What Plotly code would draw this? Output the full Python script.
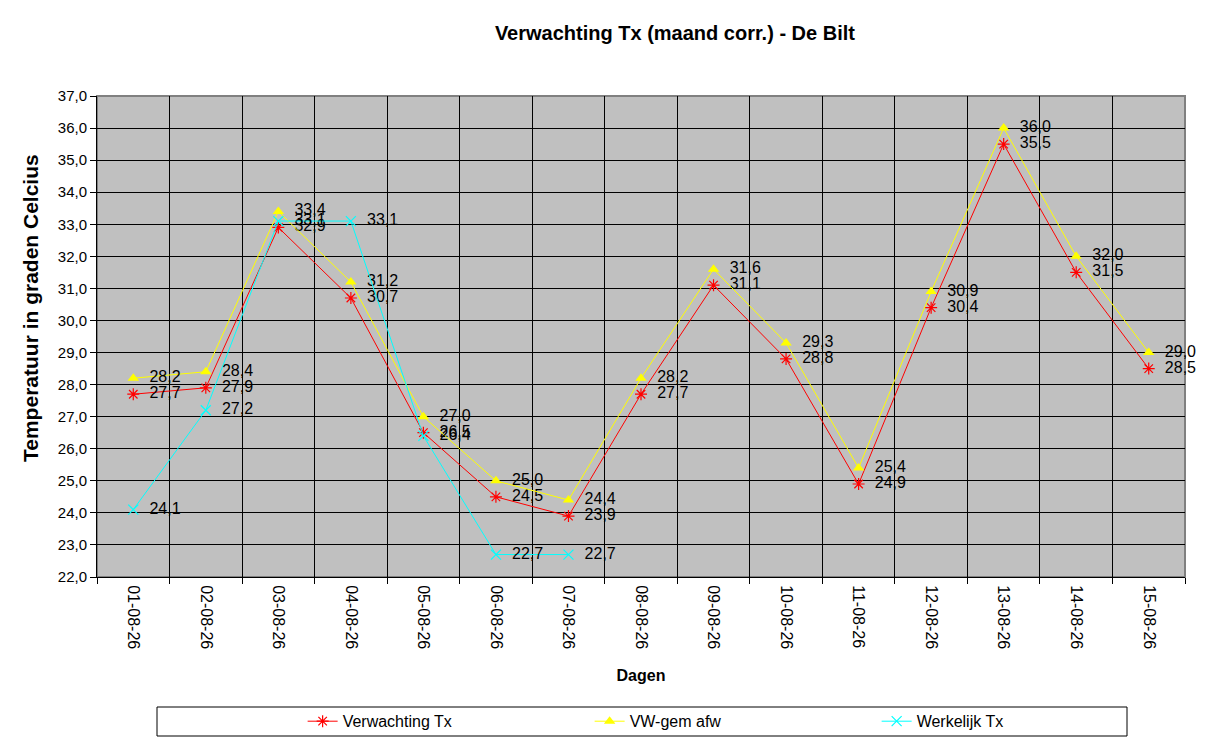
import plotly.graph_objects as go

# Dagen en temperaturen (graden Celcius)
dagen = ['01-08-26', '02-08-26', '03-08-26', '04-08-26', '05-08-26', '06-08-26', '07-08-26', '08-08-26',
         '09-08-26', '10-08-26', '11-08-26', '12-08-26', '13-08-26', '14-08-26', '15-08-26']
verwachting_tx = [27.7, 27.9, 32.9, 30.7, 26.5, 24.5, 23.9, 27.7, 31.1, 28.8, 24.9, 30.4, 35.5, 31.5, 28.5]
vw_gem_afw = [28.2, 28.4, 33.4, 31.2, 27.0, 25.0, 24.4, 28.2, 31.6, 29.3, 25.4, 30.9, 36.0, 32.0, 29.0]
werkelijk_dagen = dagen[:7]
werkelijk_tx = [24.1, 27.2, 33.1, 33.1, 26.4, 22.7, 22.7]

FONT = 'Liberation Sans, Arial, sans-serif'


def label(vals):
    # Excel-achtige labels met komma, iets rechts van het punt
    return ['  ' + f'{v:.1f}'.replace('.', ',') for v in vals]


fig = go.Figure()

fig.add_trace(go.Scatter(
    x=dagen, y=verwachting_tx, name='Verwachting Tx', mode='lines+markers+text',
    line=dict(color='#FF0000', width=1),
    marker=dict(symbol='asterisk-open', size=10, color='#FF0000', line=dict(color='#FF0000', width=1.2)),
    text=label(verwachting_tx), textposition='middle right', cliponaxis=False,
    textfont=dict(family=FONT, size=16, color='#000000')))

fig.add_trace(go.Scatter(
    x=dagen, y=vw_gem_afw, name='VW-gem afw', mode='lines+markers+text',
    line=dict(color='#FFFF00', width=1),
    marker=dict(symbol='triangle-up', size=10, color='#FFFF00'),
    text=label(vw_gem_afw), textposition='middle right', cliponaxis=False,
    textfont=dict(family=FONT, size=16, color='#000000')))

fig.add_trace(go.Scatter(
    x=werkelijk_dagen, y=werkelijk_tx, name='Werkelijk Tx', mode='lines+markers+text',
    line=dict(color='#00FFFF', width=1),
    marker=dict(symbol='x-thin-open', size=10, color='#00FFFF', line=dict(color='#00FFFF', width=1.2)),
    text=label(werkelijk_tx), textposition='middle right', cliponaxis=False,
    textfont=dict(family=FONT, size=16, color='#000000')))

# de pagina heeft 8px body-marge, daarom alles 8px naar links/boven
fig.update_layout(
    width=1217, height=747,
    paper_bgcolor='white', plot_bgcolor='#C0C0C0',
    separators=',.',
    font=dict(family=FONT, size=14, color='#000000'),
    title=dict(text='<b>Verwachting Tx (maand corr.) - De Bilt</b>', x=0.548, xanchor='center',
               y=0.967, yanchor='middle', font=dict(family=FONT, size=20)),
    margin=dict(l=89, r=40, t=88, b=178),
    showlegend=True,
    legend=dict(orientation='h', x=0.189, xanchor='left', y=-0.3, yanchor='middle',
                entrywidth=242, font=dict(family=FONT, size=16), bgcolor='rgba(0,0,0,0)'),
    shapes=[
        dict(type='rect', xref='paper', yref='paper', x0=0, x1=1, y0=0, y1=1,
             line=dict(color='#808080', width=2), layer='below'),
        dict(type='rect', xref='paper', yref='paper', x0=(157 - 97) / 1088, x1=(1127 - 97) / 1088,
             y0=-(736 - 577) / 481, y1=-(707 - 577) / 481, line=dict(color='#000000', width=1)),
    ],
    annotations=[
        dict(text='<b>Temperatuur in graden Celcius</b>', textangle=-90, showarrow=False,
             xref='paper', yref='paper', x=(22 - 89) / 1088, y=(569 - 300) / 481,
             xanchor='center', yanchor='middle', font=dict(family=FONT, size=21)),
    ],
)

fig.update_xaxes(
    type='category', categoryorder='array', categoryarray=dagen, range=[-0.5, 14.5],
    tickangle=90, tickson='boundaries', ticks='outside', ticklen=6, tickcolor='#000000',
    ticklabelstandoff=4,
    showgrid=True, gridcolor='#000000', gridwidth=1,
    showline=True, linecolor='#000000', linewidth=1, mirror=False, automargin=False,
    tickfont=dict(family=FONT, size=16),
    title=dict(text='<b>Dagen</b>', font=dict(family=FONT, size=16), standoff=21),
)
fig.update_yaxes(
    range=[22, 37], dtick=1, tickformat='.1f',
    ticks='outside', ticklen=6, tickcolor='#000000',
    showgrid=True, gridcolor='#000000', gridwidth=1, zeroline=False,
    showline=True, linecolor='#000000', linewidth=1, automargin=False,
    tickfont=dict(family=FONT, size=15),
)

fig.write_html('out.html')
